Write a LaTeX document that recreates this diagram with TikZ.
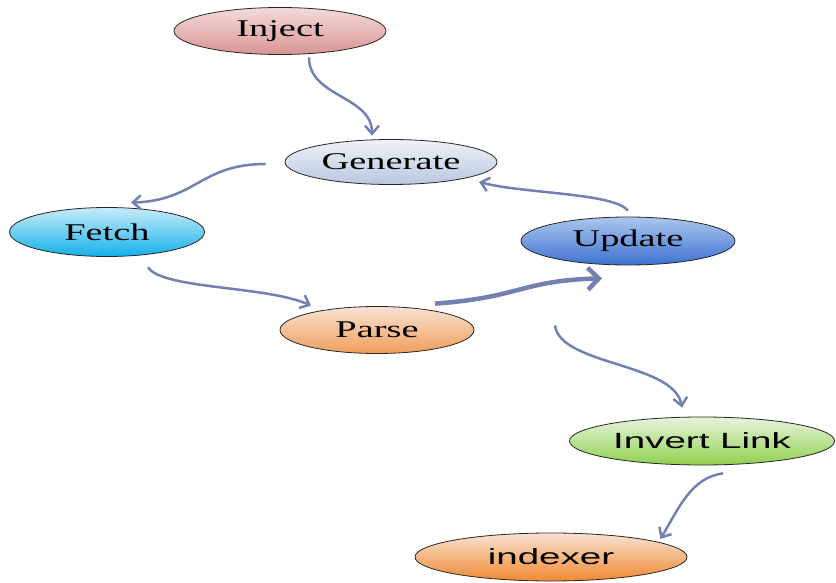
\documentclass[tikz,border=0pt]{standalone}
\usepackage{fontspec}
\newfontfamily\serifwide{Liberation Serif}[FakeStretch=1.6]
\newfontfamily\sanswide{Liberation Sans}[FakeStretch=1.75]
\usetikzlibrary{shapes.geometric, arrows.meta}

\definecolor{flow}{RGB}{115,128,178}

\begin{document}
\begin{tikzpicture}[x=1pt, y=-1pt]
			\tikzstyle{stage}=[
			ellipse, draw=black!85, line width=0.8pt, inner sep=0pt,
			minimum height=47pt,
			font=\serifwide\fontsize{24}{28}\selectfont
			]
			\tikzstyle{stagesans}=[
			stage, font=\sanswide\fontsize{22}{26}\selectfont
			]
			\tikzstyle{link}=[
			draw=flow, line width=2.5pt,
			-{Straight Barb[length=8pt, width=14pt, line width=2.5pt]}
			]
			\tikzstyle{biglink}=[
			link, line width=4.5pt,
			-{Straight Barb[length=11pt, width=22pt, line width=4.5pt]}
			]
			
			\useasboundingbox (0,0) rectangle (836,583);
			
			\node[stage, minimum width=212pt, top color={rgb,255:red,244;green,218;blue,218}, bottom color={rgb,255:red,217;green,149;blue,148}] (inject) at (280,31) {Inject};
			\node[stage, minimum width=212pt, minimum height=45pt, top color={rgb,255:red,240;green,243;blue,248}, bottom color={rgb,255:red,184;green,199;blue,224}] (generate) at (391,162) {Generate};
			\node[stage, minimum width=195pt, minimum height=49pt, top color={rgb,255:red,200;green,236;blue,248}, bottom color={rgb,255:red,19;green,176;blue,234}] (fetch) at (107,232) {Fetch};
			\node[stage, minimum width=214pt, minimum height=48pt, top color={rgb,255:red,172;green,198;blue,238}, bottom color={rgb,255:red,60;green,115;blue,208}] (update) at (628,241) {Update};
			\node[stage, minimum width=194pt, top color={rgb,255:red,248;green,226;blue,210}, bottom color={rgb,255:red,240;green,158;blue,92}] (parse) at (377,330) {Parse};
			\node[stagesans, minimum width=265pt, minimum height=48pt, top color={rgb,255:red,232;green,244;blue,220}, bottom color={rgb,255:red,143;green,208;blue,79}] (invert) at (702,441) {Invert Link};
			\node[stagesans, minimum width=272pt, minimum height=48pt, top color={rgb,255:red,248;green,226;blue,212}, bottom color={rgb,255:red,240;green,138;blue,48}] (indexer) at (551,557) {indexer};
			
			\draw[link] ([shift={(29,2.5)}]inject.south) .. controls +(0,40) and +(0,-40) .. ([shift={(-19,-3.5)}]generate.north);
			\draw[link] ([shift={(-19,2)}]generate.west) .. controls +(-65,0) and +(65,-2) .. ([shift={(24,-4.5)}]fetch.north);
			\draw[link] ([shift={(41,10.5)}]fetch.south) .. controls +(15,22) and +(-45,-20) .. ([shift={(-66,-0.5)}]parse.north);
			\draw[biglink] ([shift={(58,-2.5)}]parse.north) .. controls +(85,-6) and +(-80,2) .. ([shift={(-26,13)}]update.south);
			\draw[link] ([shift={(0,-6)}]update.north) .. controls +(-15,-18) and +(45,12) .. ([shift={(88,-3)}]generate.south);
			\draw[link] ([shift={(-73,60)}]update.south) .. controls +(5,40) and +(-8,-45) .. ([shift={(-20,-9)}]invert.north);
			\draw[link] ([shift={(21,8)}]invert.south) .. controls +(-32,4) and +(18,-30) .. ([shift={(-27,-18)}]indexer.east);
		\end{tikzpicture}
\end{document}
